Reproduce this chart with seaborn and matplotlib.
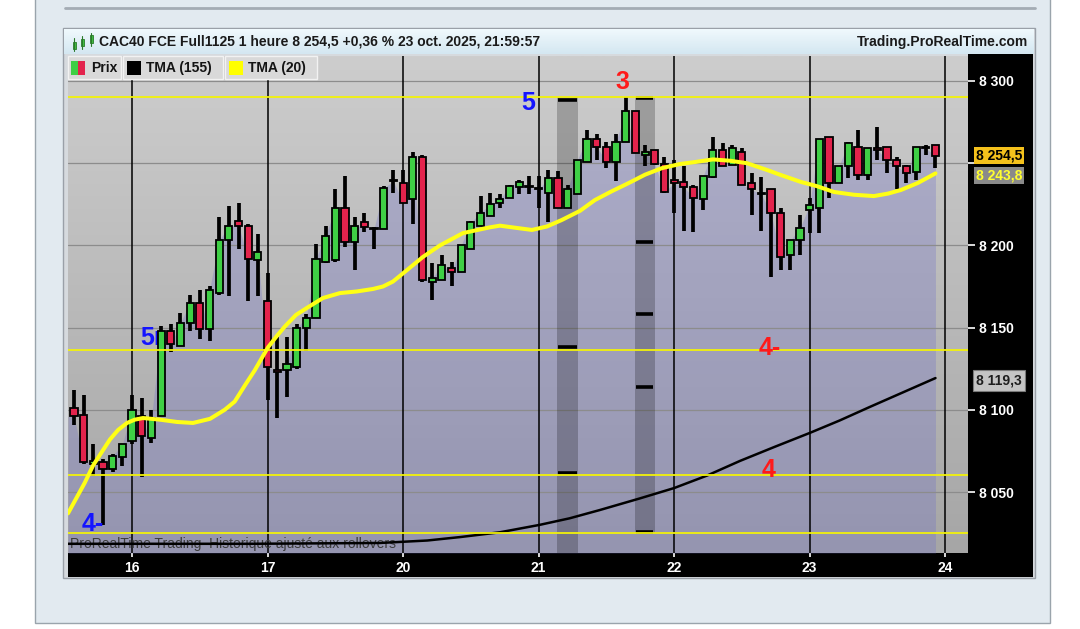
import numpy as np
import matplotlib
matplotlib.use("Agg")
import matplotlib.pyplot as plt
import matplotlib.transforms as mtransforms
from matplotlib.patches import Rectangle
from matplotlib.colors import LinearSegmentedColormap
import seaborn as sns

sns.set_style("white")
plt.rcParams["font.family"] = ["Liberation Sans", "DejaVu Sans"]

# --- données (CAC40 FCE Full1125, 1 heure) ---
day_labels = ["16", "17", "20", "21", "22", "23", "24"]
bars_per_day = [6, 14, 14, 14, 14, 14, 14]   # fin de séance du 15 puis séances complètes

opens = [8101, 8097, 8067, 8068, 8064, 8071, 8081, 8096, 8083, 8096,
         8148, 8139, 8153, 8165, 8149, 8171, 8203, 8215, 8212, 8191,
         8166, 8124, 8124, 8126, 8150, 8156, 8190, 8191, 8223, 8202,
         8214, 8210.5, 8210, 8240, 8238, 8228, 8254, 8178, 8179, 8186,
         8184, 8198, 8212, 8218, 8226, 8229, 8235.5, 8236, 8235, 8232,
         8241, 8223, 8231, 8251, 8265, 8260, 8251, 8263, 8282, 8255,
         8258, 8249.5, 8240, 8238.5, 8235.5, 8228, 8241.5, 8258, 8249, 8257,
         8238, 8232, 8234, 8220, 8194, 8203, 8221.5, 8223, 8266, 8238,
         8248, 8260, 8243, 8259, 8260, 8252, 8248, 8244.5, 8260, 8261]
highs = [8112, 8109, 8079, 8070, 8073, 8079, 8109, 8107, 8100, 8151,
         8152, 8159, 8170, 8173, 8175, 8217, 8224, 8226, 8213, 8207,
         8183, 8144, 8144, 8152, 8158, 8201, 8212, 8234, 8242, 8217,
         8220, 8211, 8236, 8246, 8246, 8257, 8255, 8189, 8194, 8190,
         8200, 8215, 8230, 8232, 8231, 8237, 8240, 8242, 8242, 8246,
         8245, 8237, 8252, 8270, 8268, 8263, 8268, 8290, 8282, 8261,
         8258, 8254, 8252, 8248, 8237, 8242, 8266, 8262, 8261, 8259,
         8244, 8241.5, 8234, 8223, 8203, 8218.5, 8229, 8265, 8266, 8248,
         8263, 8270, 8259, 8272, 8260, 8254, 8249, 8260, 8261, 8261]
lows = [8091, 8067, 8060, 8030, 8062, 8066, 8079, 8059, 8080, 8096,
        8135, 8139, 8148, 8143, 8142, 8170, 8169, 8198, 8166, 8169,
        8106, 8095, 8108, 8125, 8136, 8156, 8189, 8190, 8199, 8185,
        8208, 8198, 8210, 8232, 8226, 8213, 8178, 8167, 8179, 8175,
        8184, 8198, 8212, 8218, 8223, 8229, 8231, 8231, 8223, 8214,
        8223, 8223, 8231, 8251, 8252, 8247, 8239, 8263, 8256, 8248,
        8249, 8232, 8220, 8209, 8208, 8221.5, 8241, 8248, 8249, 8237,
        8218.5, 8209, 8181, 8185, 8185, 8194, 8207.5, 8207.5, 8229, 8238,
        8241, 8240, 8240, 8252, 8244, 8234, 8238, 8240, 8255, 8247]
closes = [8096, 8068, 8069, 8064, 8072, 8079, 8100, 8084, 8095, 8148,
          8140, 8153, 8165, 8149, 8173, 8203, 8212, 8212, 8192, 8196,
          8126, 8123, 8128, 8150, 8156, 8192, 8206, 8223, 8202, 8212,
          8211, 8210, 8235, 8239, 8226, 8254, 8179, 8180, 8188, 8184,
          8200, 8214, 8220, 8225, 8228, 8236, 8238.5, 8235.5, 8234, 8241,
          8223, 8234, 8252, 8265, 8260, 8251, 8263, 8282, 8256, 8257,
          8249.5, 8232.5, 8238, 8235.5, 8229, 8242, 8258, 8248, 8259, 8237,
          8234, 8231, 8220, 8193, 8203, 8210.5, 8224.5, 8265, 8238, 8248,
          8262, 8243, 8259, 8258, 8252, 8248, 8244, 8260, 8259, 8254.5]

# TMA (20) et TMA (155) (position en barres, valeur)
tma20_bar = [-0.62, 1.1, 1.96, 2.8, 3.72, 4.55, 5.48, 6.27, 7.13, 8.88,
             10.64, 12.29, 14.05, 15.57, 16.6, 17.67, 18.67, 20.04, 20.97, 21.77,
             22.93, 24.07, 25.72, 27.48, 29.24, 30.89, 31.92, 32.95, 33.99, 36.05,
             37.81, 40.19, 42.98, 44.0, 45.25, 47.31, 48.86, 50.41, 52.27, 53.82,
             55.58, 57.33, 58.99, 60.74, 62.6, 64.15, 66.01, 67.77, 69.52, 71.59,
             72.93, 75.1, 76.76, 78.51, 80.58, 82.64, 84.09, 85.43, 87.19, 89.0]
tma20_val = [8037, 8055.5, 8066, 8073.7, 8082, 8087.7, 8092, 8094, 8095, 8094,
             8092.6, 8092, 8094.5, 8100, 8105, 8115, 8124, 8138, 8145, 8150.6,
             8157.7, 8162, 8168, 8171, 8172, 8173.5, 8175, 8178, 8183, 8193,
             8200, 8207.5, 8211, 8212, 8211, 8209.4, 8211.5, 8215.5, 8221, 8227.6,
             8233, 8238, 8243, 8247, 8249.5, 8250.7, 8252.3, 8251.5, 8250, 8245.9,
             8243, 8238.6, 8236, 8232.5, 8230.8, 8230, 8231.5, 8233.7, 8238, 8243.8]
tma155_bar = [-0.62, 18.2, 31.6, 36.5, 39.9, 44.0, 48.1, 51.2, 54.3, 58.4,
              62.0, 65.4, 68.8, 72.4, 76.0, 79.1, 82.2, 85.6, 89.0]
tma155_val = [8018.5, 8018.5, 8019, 8020.5, 8022.6, 8025.5, 8030, 8034, 8039, 8046,
              8052.4, 8060, 8068.9, 8077.5, 8085.9, 8093.5, 8101.7, 8110.5, 8119.3]

levels = [8290.3, 8136.4, 8060.3, 8025.0]

# zones grisées : barre début, barre fin, prix bas, prix haut, repères
zones = [(49.9, 52.1, 8012.9, 8290.0), (57.95, 60.0, 8025.0, 8290.0)]
zone_marks = [[8288.4, 8138.0, 8061.6], [8289.7, 8202.0, 8158.3, 8114.0, 8025.6]]

y_ticks = [8050, 8100, 8150, 8200, 8250, 8300]
y_tick_labels = ["8 050", "8 100", "8 150", "8 200", "", "8 300"]

last_price, last_tma20, last_tma155 = 8254.5, 8243.8, 8119.3

W, H = 1080, 629
fig = plt.figure(figsize=(W / 100, H / 100), dpi=100, facecolor="white")


def fx(x):
    return x / W


def fy(y):
    return 1 - y / H


def add_rect(x0, y0, x1, y1, **kw):
    r = Rectangle((fx(x0), fy(y1)), (x1 - x0) / W, (y1 - y0) / H,
                  transform=fig.transFigure, **kw)
    fig.patches.append(r)
    return r


# cadre extérieur
add_rect(35, -5, 1050, 623, fc="#e2eaf0", ec="#9aa4ac", lw=1, zorder=-5)
fig.add_artist(plt.Line2D([fx(65), fx(1035)], [fy(8), fy(8)], color="#a4acb4", lw=2, zorder=-4))
add_rect(63, 28, 1035, 578, fc="#d6dade", ec="#9aa0a8", lw=1, zorder=-4)
# bandes noires des axes
add_rect(968, 54, 1033, 577, fc="black", ec="none", zorder=-3)
add_rect(68, 553, 968, 577, fc="black", ec="none", zorder=-3)

# barre de titre
tax = fig.add_axes([fx(64), fy(54), (1034 - 64) / W, 25 / H])
title_cmap = LinearSegmentedColormap.from_list("t", ["#f0f9fd", "#d4e7f1"])
tax.imshow(np.linspace(0, 1, 64).reshape(-1, 1), cmap=title_cmap, aspect="auto",
           extent=[64, 1034, 54, 29])
tax.set_xlim(64, 1034)
tax.set_ylim(54, 29)
tax.set_axis_off()
for cx, top, bot, btop, bbot in [(74, 38, 51, 42, 49), (82, 36, 49, 39, 46), (91, 33, 46, 35, 43)]:
    tax.plot([cx, cx], [top, bot], color="#2a7a2a", lw=0.8)
    tax.add_patch(Rectangle((cx - 1.5, btop), 3, bbot - btop, fc="#40c040", ec="#2a7a2a", lw=0.6))
tax.text(99, 42, "CAC40 FCE Full1125 1 heure 8 254,5 +0,36 % 23 oct. 2025, 21:59:57",
         fontsize=10, fontweight="bold", color="#1a1a1a", va="center", ha="left")
tax.text(1028, 42, "Trading.ProRealTime.com", fontsize=10, fontweight="bold",
         color="#1a1a1a", va="center", ha="right")

# graphique principal
ax = fig.add_axes([fx(68), fy(553), 900 / W, 497 / H])
x = np.arange(len(closes))
xmin, xmax = -0.62, 92.36
ymin, ymax = 8012.9, 8315.2

bg_cmap = LinearSegmentedColormap.from_list("bg", ["#cdcdcd", "#a6a6a6"])
ax.imshow(np.linspace(0, 1, 256).reshape(-1, 1), cmap=bg_cmap, aspect="auto",
          extent=[xmin, xmax, ymin, ymax], zorder=0)

ax.fill_between(np.r_[xmin, x], np.r_[closes[0], closes], ymin,
                color="#6e6ec8", alpha=0.3, lw=0, zorder=1)

for t in y_ticks:
    ax.axhline(t, color="#8c8c8c", lw=0.9, zorder=1.5)

for (b0, b1, p0, p1), marks in zip(zones, zone_marks):
    ax.bar((b0 + b1) / 2, p1 - p0, bottom=p0, width=b1 - b0, color="black",
           alpha=0.22, lw=0, zorder=2)
    ax.hlines(marks, b0 + 0.15, b1 - 0.15, color="black", lw=2.6, zorder=2.5)

day_pos = np.cumsum(bars_per_day)
for d in day_pos:
    ax.axvline(d, color="black", lw=1.1, zorder=4)

sns.lineplot(x=tma155_bar, y=tma155_val, ax=ax, color="black", lw=1.8, zorder=4.2,
             solid_joinstyle="round")

# bougies
o = np.array(opens)
c = np.array(closes)
body_bottom = np.minimum(o, c)
body_height = np.maximum(np.abs(c - o), 0.8)
body_color = np.where(c >= o, "#3fcf45", "#e3234c")
ax.vlines(x, lows, highs, color="black", lw=2.7, zorder=5)
ax.bar(x, body_height, bottom=body_bottom, width=0.74, color=body_color,
       edgecolor="black", linewidth=1.3, zorder=6)

for lv in levels:
    ax.axhline(lv, color="#f2f20a", lw=1.3, zorder=6.5)

sns.lineplot(x=tma20_bar, y=tma20_val, ax=ax, color="#ffff14", lw=2.9, zorder=7,
             solid_joinstyle="round", solid_capstyle="round")

# annotations
ann = dict(fontsize=18, fontweight="bold", va="center")
ax.text(46.9, 8286.6, "5", color="#1414ff", ha="center", zorder=8, **ann)
ax.text(56.7, 8299.5, "3", color="#ff1a1a", ha="center", zorder=8, **ann)
ax.text(6.8, 8143.7, "5r", color="#1414ff", ha="left", zorder=5.5, **ann)
ax.text(70.7, 8137.6, "4-", color="#ff1a1a", ha="left", zorder=8, **ann)
ax.text(71.8, 8063.4, "4", color="#ff1a1a", ha="center", zorder=8, **ann)
ax.text(0.83, 8030.5, "4-", color="#1414ff", ha="left", zorder=8, **ann)

ax.text(0.002, 8018.5, "ProRealTime Trading  Historique ajusté aux rollovers",
        transform=mtransforms.blended_transform_factory(ax.transAxes, ax.transData),
        fontsize=10, color="#3c3c3c", va="center", ha="left", zorder=4.1)

ax.set_xlim(xmin, xmax)
ax.set_ylim(ymin, ymax)
ax.yaxis.tick_right()
ax.set_yticks(y_ticks)
ax.set_yticklabels(y_tick_labels, fontsize=10, fontweight="bold", color="white")
ax.set_xticks(day_pos)
ax.set_xticklabels(day_labels, fontsize=10, fontweight="bold", color="white")
ax.tick_params(axis="y", colors="white", length=5, width=1.2, pad=3, right=True, left=False)
ax.tick_params(axis="x", colors="white", length=3, width=1.2, pad=3, bottom=True)
ax.set_xlabel("")
ax.set_ylabel("")
for s in ax.spines.values():
    s.set_visible(False)

# étiquettes de prix sur l'axe de droite
tr = mtransforms.blended_transform_factory(ax.transAxes, ax.transData)
ax.text(1.009, last_price, "8 254,5", transform=tr, fontsize=10, fontweight="bold",
        color="black", va="center", ha="left",
        bbox=dict(boxstyle="square,pad=0.12", fc="#f4c11c", ec="none"))
ax.text(1.009, last_tma20 - 1.2, "8 243,8", transform=tr, fontsize=10, fontweight="bold",
        color="#ffff30", va="center", ha="left",
        bbox=dict(boxstyle="square,pad=0.12", fc="#8a8a8a", ec="none"))
ax.text(1.009, last_tma155 - 1.5, "8 119,3", transform=tr, fontsize=10, fontweight="bold",
        color="#1e1e1e", va="center", ha="left",
        bbox=dict(boxstyle="square,pad=0.22", fc="#c4c4c4", ec="#7a7a7a", lw=0.8))

# légende
legend_items = [("Prix", None, 68, 121), ("TMA (155)", "black", 123, 223), ("TMA (20)", "#ffff00", 225, 317)]
for label, col, x0, x1 in legend_items:
    add_rect(x0, 56, x1, 79, fc="#d9d9d9", ec="#f2f2f2", lw=1, zorder=5)
    if col is None:
        add_rect(x0 + 3, 61, x0 + 10, 75, fc="#3fcf45", ec="none", zorder=6)
        add_rect(x0 + 10, 61, x0 + 17, 75, fc="#e3234c", ec="none", zorder=6)
    else:
        add_rect(x0 + 4, 61, x0 + 18, 75, fc=col, ec="none", zorder=6)
    fig.text(fx(x0 + 23), fy(68), label, fontsize=10, fontweight="bold",
             color="#141414", va="center", ha="left", zorder=7)

fig.savefig("out.png", dpi=100, facecolor=fig.get_facecolor())
